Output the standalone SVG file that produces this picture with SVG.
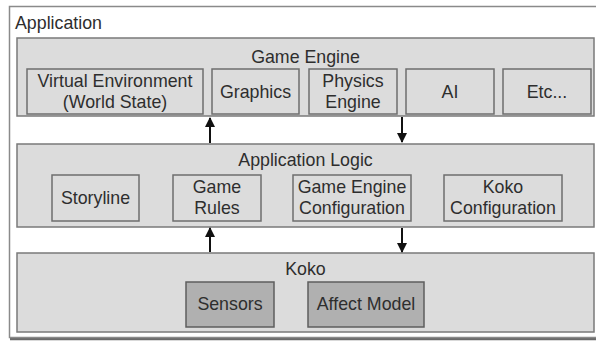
<svg xmlns="http://www.w3.org/2000/svg" width="596" height="342" viewBox="0 0 596 342">
  <defs>
    <style>
      text { font-family: "Liberation Sans", Arial, sans-serif; font-size: 17.8px; fill: #2e2e2e; text-anchor: middle; }
      .outer { fill: #fff; stroke: #8a8a8a; stroke-width: 1.5; }
      .panel { fill: #dcdcdc; stroke: #7a7a7a; stroke-width: 1.5; }
      .box { fill: #dcdcdc; stroke: #6e6e6e; stroke-width: 1.5; }
      .dark { fill: #b0b0b0; stroke: #5e5e5e; stroke-width: 1.5; }
      .conn { stroke: #111; stroke-width: 2; fill: none; }
    </style>
    <marker id="arrow" viewBox="0 0 10 10" refX="9" refY="5" markerWidth="6" markerHeight="5" orient="auto" markerUnits="strokeWidth">
      <path d="M0,0 L10,5 L0,10 z" fill="#111"/>
    </marker>
  </defs>

  <!-- outer application frame -->
  <g id="application">
    <line x1="10" y1="339" x2="596" y2="339" stroke="#6a6a6a" stroke-width="2.5"/>
    <rect class="outer" x="9.5" y="6.5" width="600" height="331"/>
    <text x="15" y="29" style="text-anchor:start">Application</text>
  </g>

  <!-- game engine layer -->
  <g id="game-engine">
    <rect class="panel" x="17" y="38" width="577" height="78"/>
    <text x="305.5" y="63">Game Engine</text>
  </g>
  <g id="virtual-environment">
    <rect class="box" x="27" y="69" width="176" height="45"/>
    <text x="115" y="87">Virtual Environment</text>
    <text x="115" y="108">(World State)</text>
  </g>
  <g id="graphics">
    <rect class="box" x="212" y="69" width="87" height="45"/>
    <text x="255.5" y="98">Graphics</text>
  </g>
  <g id="physics-engine">
    <rect class="box" x="309" y="69" width="88" height="45"/>
    <text x="353" y="87">Physics</text>
    <text x="353" y="108">Engine</text>
  </g>
  <g id="ai">
    <rect class="box" x="406" y="69" width="88" height="45"/>
    <text x="450" y="98">AI</text>
  </g>
  <g id="etc">
    <rect class="box" x="503" y="69" width="88" height="45"/>
    <text x="547" y="98">Etc...</text>
  </g>

  <!-- application logic layer -->
  <g id="application-logic">
    <rect class="panel" x="17" y="144" width="577" height="83"/>
    <text x="305.5" y="166">Application Logic</text>
  </g>
  <g id="storyline">
    <rect class="box" x="52" y="175" width="87" height="46"/>
    <text x="95.5" y="204">Storyline</text>
  </g>
  <g id="game-rules">
    <rect class="box" x="173" y="175" width="88" height="46"/>
    <text x="217" y="193">Game</text>
    <text x="217" y="214">Rules</text>
  </g>
  <g id="game-engine-configuration">
    <rect class="box" x="293" y="175" width="118" height="46"/>
    <text x="352" y="193">Game Engine</text>
    <text x="352" y="214">Configuration</text>
  </g>
  <g id="koko-configuration">
    <rect class="box" x="444" y="175" width="118" height="46"/>
    <text x="503" y="193">Koko</text>
    <text x="503" y="214">Configuration</text>
  </g>

  <!-- koko layer -->
  <g id="koko">
    <rect class="panel" x="17" y="253" width="577" height="79"/>
    <text x="305.5" y="275">Koko</text>
  </g>
  <g id="sensors">
    <rect class="dark" x="186" y="282" width="88" height="45"/>
    <text x="230" y="310">Sensors</text>
  </g>
  <g id="affect-model">
    <rect class="dark" x="308" y="282" width="116" height="45"/>
    <text x="366" y="310">Affect Model</text>
  </g>

  <!-- connectors between layers -->
  <g id="connectors">
    <line class="conn" x1="210" y1="143" x2="210" y2="118" marker-end="url(#arrow)"/>
    <line class="conn" x1="402" y1="117" x2="402" y2="142" marker-end="url(#arrow)"/>
    <line class="conn" x1="210" y1="252" x2="210" y2="228" marker-end="url(#arrow)"/>
    <line class="conn" x1="402" y1="228" x2="402" y2="252" marker-end="url(#arrow)"/>
  </g>
</svg>
